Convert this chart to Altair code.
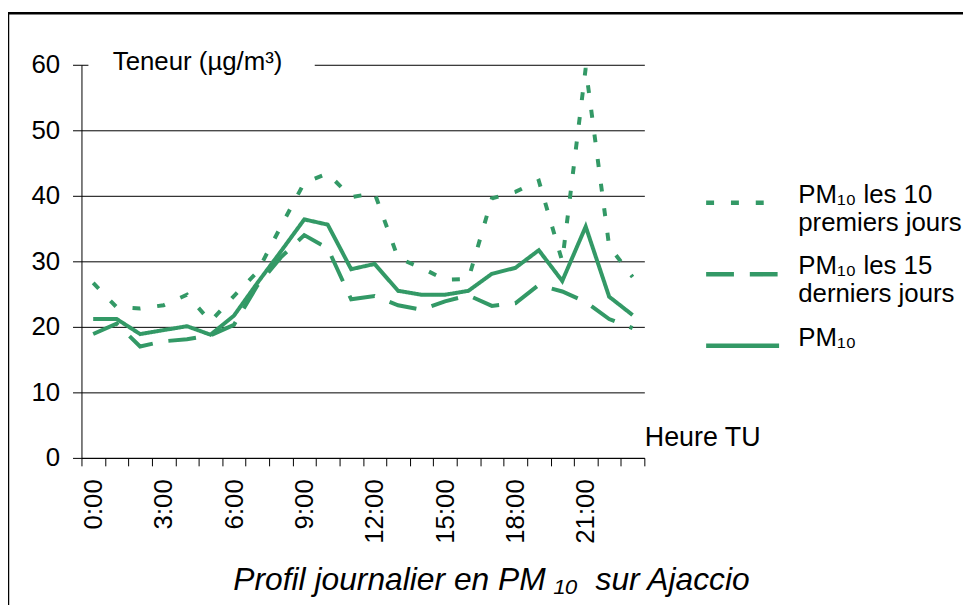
import altair as alt
import pandas as pd

# ---- data ----
hours = list(range(24))
pm10_10_premiers = [26.7, 23.0, 22.8, 23.3, 24.9, 20.8, 24.7, 28.4, 35.3, 42.0, 43.4, 39.8,
                    40.4, 30.5, 29.0, 27.2, 27.3, 39.6, 40.6, 42.3, 30.0, 59.5, 32.3, 27.6]
pm10_15_derniers = [18.9, 20.5, 17.0, 17.8, 18.1, 18.7, 20.3, 26.3, 30.6, 34.0, 32.0, 24.2,
                    24.7, 23.3, 22.6, 23.9, 24.8, 23.2, 23.6, 26.4, 25.4, 23.8, 21.2, 19.8]
pm10 = [21.2, 21.2, 18.9, 19.5, 20.1, 18.8, 21.7, 26.7, 31.5, 36.4, 35.6, 28.8,
        29.6, 25.5, 24.9, 24.9, 25.5, 28.1, 29.0, 31.7, 27.0, 35.3, 24.6, 21.8]
series_names = ["PM₁₀ les 10|premiers jours", "PM₁₀ les 15|derniers jours", "PM₁₀"]
y_ticks = [0, 10, 20, 30, 40, 50, 60]
x_ticks = list(range(25))

GREEN = "#339966"
FONT = "Liberation Sans"

rows = []
for name, vals in zip(series_names, [pm10_10_premiers, pm10_15_derniers, pm10]):
    for h, v in zip(hours, vals):
        rows.append({"heure": h, "valeur": v, "serie": name})
df = pd.DataFrame(rows)
one = pd.DataFrame({"k": [0]})

W, H = 567, 396

lines = alt.Chart(df).transform_calculate(
    xpos="datum.heure + 0.5"
).mark_line(color=GREEN, strokeWidth=4).encode(
    x=alt.X("xpos:Q",
            scale=alt.Scale(domain=[0, 24], nice=False, zero=False),
            axis=alt.Axis(values=x_ticks,
                          labelExpr="datum.value % 3 == 0 && datum.value < 24 ? datum.value + ':00' : ''",
                          labelAngle=270, labelOffset=12, labelPadding=13, labelOverlap=False,
                          labelFlush=False, labelBound=False, tickSize=8, grid=False,
                          title="Heure TU", titleX=567, titleY=-12, titleAlign="left",
                          titleBaseline="alphabetic", titleAngle=0, titleFontSize=27)),
    y=alt.Y("valeur:Q",
            scale=alt.Scale(domain=[0, 60], nice=False, zero=True),
            axis=alt.Axis(values=y_ticks, tickSize=9, labelPadding=13, grid=True, title=None)),
    strokeDash=alt.StrokeDash(
        "serie:N",
        scale=alt.Scale(domain=series_names, range=[[8, 17], [28, 16], [1, 0]]),
        legend=alt.Legend(title=None, orient="none", legendX=627, legendY=100,
                          symbolType="stroke", symbolSize=5402, symbolStrokeWidth=4.5,
                          symbolStrokeColor=GREEN, labelFontSize=26, labelFont=FONT,
                          labelColor="black", labelExpr="split(datum.label, '|')",
                          labelBaseline="alphabetic",
                          labelLimit=400, labelOffset=17, rowPadding=0, padding=0)),
)

border = alt.Chart(one).mark_rect(fillOpacity=0, stroke="black", strokeWidth=2.5).encode(
    x=alt.value(-74), x2=alt.value(900), y=alt.value(-52), y2=alt.value(570)
)

ytitle_bg = alt.Chart(one).mark_rect(color="white").encode(
    x=alt.value(7), x2=alt.value(235), y=alt.value(-18), y2=alt.value(14)
)
ytitle = alt.Chart(one).mark_text(text="Teneur (µg/m³)", font=FONT, fontSize=26,
                                  align="center", baseline="alphabetic", color="black").encode(
    x=alt.value(117), y=alt.value(5)
)
title = alt.Chart(one).mark_text(text="Profil journalier en PM ₁₀\u00a0 sur Ajaccio", font=FONT,
                                 fontSize=32, fontStyle="italic", align="center",
                                 baseline="alphabetic", color="black").encode(
    x=alt.value(413), y=alt.value(529)
)

chart = alt.layer(border, ytitle_bg, lines, ytitle, title).properties(
    width=W, height=H,
    autosize=alt.AutoSizeParams(type="none"),
    padding={"left": 74, "top": 55, "right": 321, "bottom": 146},
).configure_view(stroke=None).configure_axis(
    domainColor="black", tickColor="black", gridColor="black", gridWidth=1,
    labelFont=FONT, labelFontSize=26, labelColor="black",
    titleFont=FONT, titleFontSize=26, titleColor="black", titleFontWeight="normal",
)

chart.save("out.html", embed_options={"renderer": "svg", "actions": False})
